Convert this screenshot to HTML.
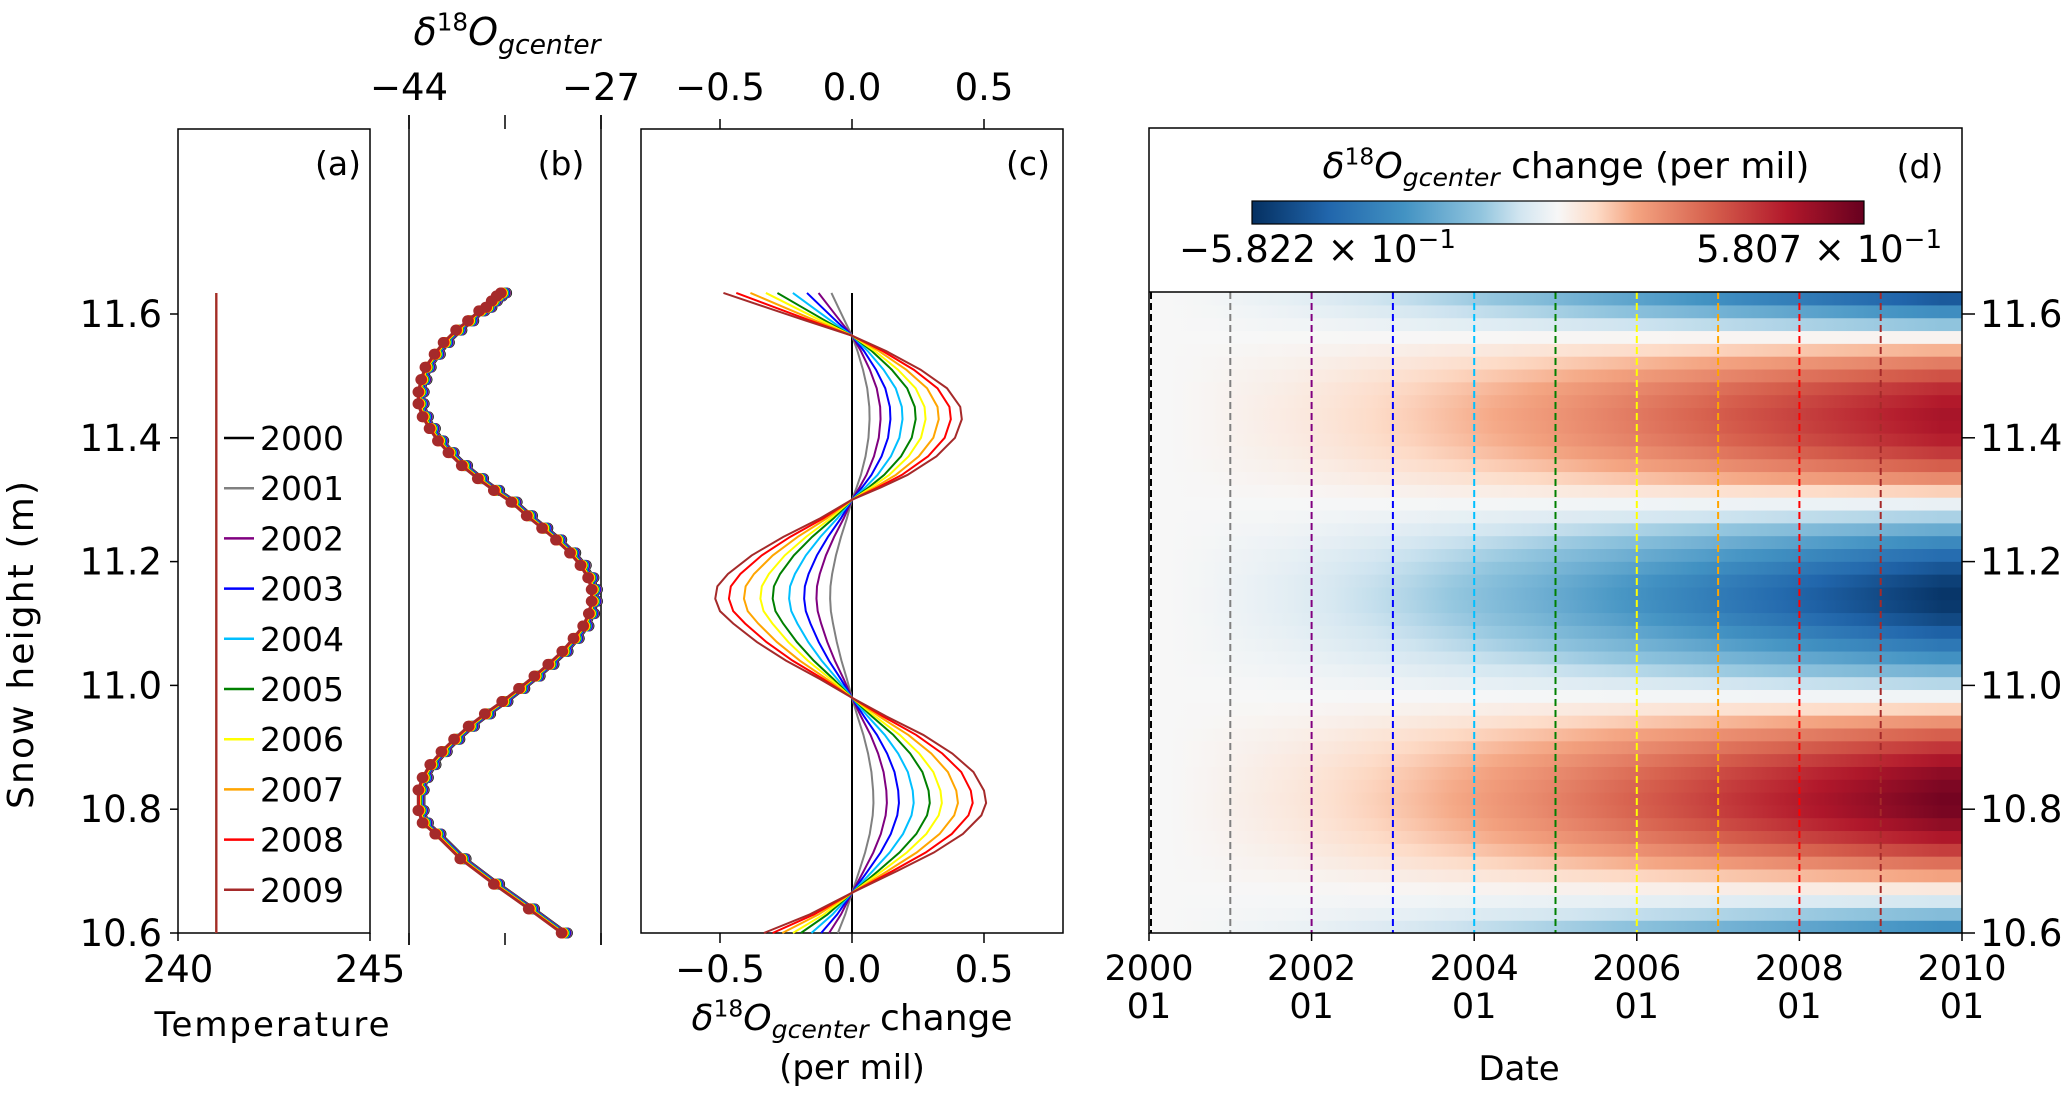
<!DOCTYPE html>
<html><head><meta charset="utf-8">
<style>
html,body{margin:0;padding:0;background:#fff;}
svg{display:block;font-family:"DejaVu Sans","Liberation Sans",sans-serif;}
</style></head>
<body>
<svg id="chart" width="2067" height="1093" viewBox="0 0 2067 1093" xmlns="http://www.w3.org/2000/svg"></svg>
<script>
// ---- data ----
const years = [2000,2001,2002,2003,2004,2005,2006,2007,2008,2009];
const yearColors = ['#000000','#808080','#800080','#0000ff','#00bfff','#008000','#ffff00','#ffa500','#ff0000','#a52a2a'];
const heightTicks = [10.6,10.8,11.0,11.2,11.4,11.6];
const tempTicks = [240,245];
const tempValue = 241;
const tempTop = 11.634;
const d18Ticks = [-44,-35.5,-27];
const d18TickLabels = ['\u221244','','\u221227'];
const bHeights = [11.634,11.629,11.621,11.611,11.605,11.589,11.574,11.554,11.535,11.514,11.494,11.474,11.455,11.434,11.415,11.395,11.376,11.355,11.334,11.315,11.296,11.274,11.254,11.235,11.214,11.194,11.174,11.155,11.136,11.116,11.096,11.076,11.055,11.034,11.015,10.995,10.974,10.954,10.934,10.913,10.893,10.872,10.851,10.831,10.798,10.778,10.760,10.720,10.679,10.639,10.600];
const bValues = [-35.90,-36.27,-36.71,-37.20,-37.82,-38.81,-39.86,-40.97,-41.77,-42.58,-42.95,-43.20,-43.20,-42.83,-42.21,-41.47,-40.54,-39.36,-37.94,-36.52,-34.97,-33.61,-32.25,-31.02,-29.78,-28.85,-28.17,-27.86,-27.86,-28.11,-28.61,-29.47,-30.46,-31.70,-32.93,-34.29,-35.78,-37.32,-38.75,-40.04,-41.16,-42.15,-42.83,-43.20,-43.20,-42.83,-41.71,-39.49,-36.52,-33.43,-30.52];
const cTicks = [-0.5,0.0,0.5];
const cTickLabels = ['\u22120.5','0.0','0.5'];
const profHeights = [11.634,11.61,11.59,11.565,11.54,11.51,11.48,11.45,11.43,11.40,11.37,11.34,11.32,11.30,11.27,11.24,11.21,11.18,11.16,11.14,11.12,11.10,11.07,11.04,11.01,10.98,10.95,10.92,10.89,10.86,10.83,10.81,10.79,10.76,10.73,10.70,10.665,10.63,10.60];
const prof2009 = [-0.487,-0.32,-0.18,0,0.13,0.26,0.36,0.41,0.416,0.39,0.32,0.21,0.11,0,-0.12,-0.26,-0.38,-0.47,-0.51,-0.518,-0.50,-0.45,-0.36,-0.25,-0.12,0,0.13,0.27,0.38,0.46,0.50,0.508,0.49,0.42,0.31,0.17,0,-0.16,-0.334];
const yearScale = [0,0.16,0.26,0.35,0.46,0.58,0.67,0.79,0.90,1.0];
const heatTimeScale = [0.0,0.02,0.05,0.08,0.12,0.17,0.22,0.28,0.34,0.40,0.47,0.54,0.61,0.68,0.75,0.82,0.89,0.96,1.03,1.10];
const dateTicks = [2000,2002,2004,2006,2008,2010];
const cbarMin = -0.5822, cbarMax = 0.5807;

// ---- helpers ----
const NS='http://www.w3.org/2000/svg';
const svg=document.getElementById('chart');
function el(tag,attrs,parent){const e=document.createElementNS(NS,tag);for(const k in attrs)e.setAttribute(k,attrs[k]);(parent||svg).appendChild(e);return e;}
function txt(s,x,y,size,anchor,parent){const t=el('text',{x:x,y:y,'font-size':size,'text-anchor':anchor||'middle',fill:'#000'},parent);t.textContent=s;return t;}
const Y0=933,PXM=619;
function yH(h){return Y0-(h-10.6)*PXM;}
const ax={a:[178,370],b:[409,601],c:[641,1063],d:[1149,1962]};
function xA(v){return ax.a[0]+(v-240)/5*(ax.a[1]-ax.a[0]);}
function xB(v){return ax.b[0]+(v+44)/17*(ax.b[1]-ax.b[0]);}
function xC(v){return 852+v*264;}
function xD(yr){return ax.d[0]+(yr-2000)/10*(ax.d[1]-ax.d[0]);}
const stops=[[-1,[5,48,97]],[-0.75,[33,102,172]],[-0.5,[67,147,195]],[-0.25,[146,197,222]],[-0.125,[209,229,240]],[0,[247,247,247]],[0.125,[253,219,199]],[0.25,[244,165,130]],[0.5,[214,96,77]],[0.75,[178,24,43]],[1,[103,0,31]]];
function cmap(t){t=Math.max(-1,Math.min(1,t));for(let i=0;i<stops.length-1;i++){const a=stops[i],b=stops[i+1];if(t<=b[0]){const f=(t-a[0])/(b[0]-a[0]);const c=a[1].map((v,j)=>Math.round(v+(b[1][j]-v)*f));return 'rgb('+c.join(',')+')';}}return 'rgb(103,0,31)';}
function profAt(h){for(let i=0;i<profHeights.length-1;i++){const h1=profHeights[i],h2=profHeights[i+1];if(h<=h1&&h>=h2){const f=(h1-h)/(h1-h2);return prof2009[i]+(prof2009[i+1]-prof2009[i])*f;}}return h>profHeights[0]?prof2009[0]:prof2009[prof2009.length-1];}
function italicLabel(x,y,size,suffix,parent){
  const t=el('text',{x:x,y:y,'font-size':size,'text-anchor':'middle',fill:'#000'},parent);
  const a=el('tspan',{'font-style':'italic'},t);a.textContent='\u03b4';
  const b=el('tspan',{dy:-size*0.38,'font-size':size*0.65},t);b.textContent='18';
  const c=el('tspan',{dy:size*0.38,'font-style':'italic'},t);c.textContent='O';
  const d=el('tspan',{dy:size*0.22,'font-style':'italic','font-size':size*0.7},t);d.textContent='gcenter';
  if(suffix){const e=el('tspan',{dy:-size*0.22},t);e.textContent=suffix;}
  return t;
}
const FS=37;

// ---- panel a ----
const ga=el('g',{});

el('rect',{x:178,y:129,width:192,height:804,fill:'none',stroke:'#000','stroke-width':1.5},ga);
heightTicks.forEach(h=>{const y=yH(h);el('line',{x1:170,x2:178,y1:y,y2:y,stroke:'#000','stroke-width':1.5},ga);
 const t=txt(h.toFixed(1),162,y+13,FS,'end',ga);});
tempTicks.forEach(v=>{const x=xA(v);el('line',{x1:x,x2:x,y1:933,y2:941,stroke:'#000','stroke-width':1.5},ga);txt(String(v),x,982,FS,'middle',ga);});
const tl=txt('Temperature',272,1036,34,'middle',ga);tl.setAttribute('textLength','235');
years.forEach((yr,i)=>{const ln=el('line',{x1:xA(tempValue),x2:xA(tempValue),y1:yH(tempTop),y2:933,stroke:yearColors[i],'stroke-width':2},ga);
 });
const lg=el('g',{},ga);
years.forEach((yr,i)=>{const y=438+i*50.2;const g=el('g',{},lg);
 el('line',{x1:224,x2:254,y1:y,y2:y,stroke:yearColors[i],'stroke-width':2.5},g);txt(String(yr),260,y+12,33,'start',g);});
const la=txt('(a)',338,175,33,'middle',ga);
const yt=el('text',{x:0,y:0,'font-size':36,'text-anchor':'middle',textLength:328,transform:'translate(33,645) rotate(-90)',fill:'#000'});yt.textContent='Snow height  (m)';


// ---- panel b ----
const gb=el('g',{});
el('line',{x1:409,x2:409,y1:115,y2:945,stroke:'#000','stroke-width':1.5},gb);
el('line',{x1:601,x2:601,y1:115,y2:945,stroke:'#000','stroke-width':1.5},gb);
d18Ticks.forEach((v,i)=>{const x=xB(v);el('line',{x1:x,x2:x,y1:115,y2:129,stroke:'#000','stroke-width':1.5},gb);el('line',{x1:x,x2:x,y1:933,y2:945,stroke:'#000','stroke-width':1.5},gb);
 if(d18TickLabels[i])txt(d18TickLabels[i],x,100,FS,'middle',gb);});
const bt=italicLabel(507,45,38,null,gb);
const lb=txt('(b)',561,175,33,'middle',gb);
years.forEach((yr,i)=>{const off=(9-i)*0.06;const pts=bHeights.map((h,j)=>xB(bValues[j]+off)+','+yH(h)).join(' ');
 const pl=el('polyline',{points:pts,fill:'none',stroke:yearColors[i],'stroke-width':2.5},gb);
 bHeights.forEach((h,j)=>{const c=el('circle',{cx:xB(bValues[j]+off),cy:yH(h),r:5.5,fill:yearColors[i]},gb);});});

// ---- panel c ----
const gc=el('g',{});
el('rect',{x:641,y:129,width:422,height:804,fill:'none',stroke:'#000','stroke-width':1.5},gc);
cTicks.forEach((v,i)=>{const x=xC(v);el('line',{x1:x,x2:x,y1:119,y2:129,stroke:'#000','stroke-width':1.5},gc);el('line',{x1:x,x2:x,y1:933,y2:943,stroke:'#000','stroke-width':1.5},gc);
 txt(cTickLabels[i],x,100,FS,'middle',gc);txt(cTickLabels[i],x,982,FS,'middle',gc);});
const ct=italicLabel(852,1030,36,' change',gc);
const ct2=txt('(per mil)',852,1079,34,'middle',gc);
const lc=txt('(c)',1028,175,33,'middle',gc);
years.forEach((yr,i)=>{const pts=profHeights.map((h,j)=>xC(prof2009[j]*yearScale[i])+','+yH(h)).join(' ');
 const pl=el('polyline',{points:pts,fill:'none',stroke:yearColors[i],'stroke-width':2},gc);});

// ---- panel d ----
const gd=el('g',{});
const hmTop=292,nRows=50,hTop=10.6+(933-hmTop)/PXM,rowH=(hTop-10.6)/nRows;
const nCols=heatTimeScale.length;
const hm=el('g',{},gd);
for(let r=0;r<nRows;r++){const h1=10.6+r*rowH,h2=h1+rowH,p=profAt((h1+h2)/2);
 const gid='gr'+r;const lgd=el('linearGradient',{id:gid,x1:0,x2:1,y1:0,y2:0},svg);
 heatTimeScale.forEach((s,c)=>{el('stop',{offset:((c+0.5)/nCols),'stop-color':cmap(p*s/(p>=0?cbarMax:-cbarMin))},lgd);});
 const rc=el('rect',{x:ax.d[0],y:yH(h2),width:ax.d[1]-ax.d[0],height:yH(h1)-yH(h2)+0.6,fill:'url(#'+gid+')'},hm);
 }
years.forEach((yr,i)=>{const x=xD(yr)+(i===0?2:0);const ln=el('line',{x1:x,x2:x,y1:hmTop,y2:933,stroke:yearColors[i],'stroke-width':2,'stroke-dasharray':'7,4'},gd);
 });
el('rect',{x:1149,y:128,width:813,height:805,fill:'none',stroke:'#000','stroke-width':1.5},gd);
el('line',{x1:1149,x2:1962,y1:hmTop,y2:hmTop,stroke:'#000','stroke-width':1.5},gd);
heightTicks.forEach(h=>{const y=yH(h);el('line',{x1:1962,x2:1975,y1:y,y2:y,stroke:'#000','stroke-width':1.5},gd);txt(h.toFixed(1),1980,y+13,FS,'start',gd);});
dateTicks.forEach(yr=>{const x=xD(yr);el('line',{x1:x,x2:x,y1:933,y2:941,stroke:'#000','stroke-width':1.5},gd);txt(String(yr),x,980,35,'middle',gd);txt('01',x,1018,35,'middle',gd);});
const dt=txt('Date',1519,1080,34,'middle',gd);
const ld=txt('(d)',1920,178,33,'middle',gd);
// colorbar
const cg=el('linearGradient',{id:'cbar',x1:0,x2:1,y1:0,y2:0},svg);
stops.forEach(s=>el('stop',{offset:(s[0]+1)/2,'stop-color':'rgb('+s[1].join(',')+')'},cg));
const cb=el('rect',{x:1252,y:201,width:612,height:23,fill:'url(#cbar)',stroke:'#000','stroke-width':1.2},gd);

const cbt=italicLabel(1566,178,36,' change (per mil)',gd);
function sciLabel(mant,x,y,anchor){const t=el('text',{x:x,y:y,'font-size':37,'text-anchor':anchor,fill:'#000'},gd);
 const a=el('tspan',{},t);a.textContent=mant+' \u00d7 10';const b=el('tspan',{dy:-14,'font-size':26},t);b.textContent='\u22121';return t;}
const cl=sciLabel('\u22125.822',1179,262,'start');
const cr=sciLabel('5.807',1942,262,'end');
</script>
</body></html>
